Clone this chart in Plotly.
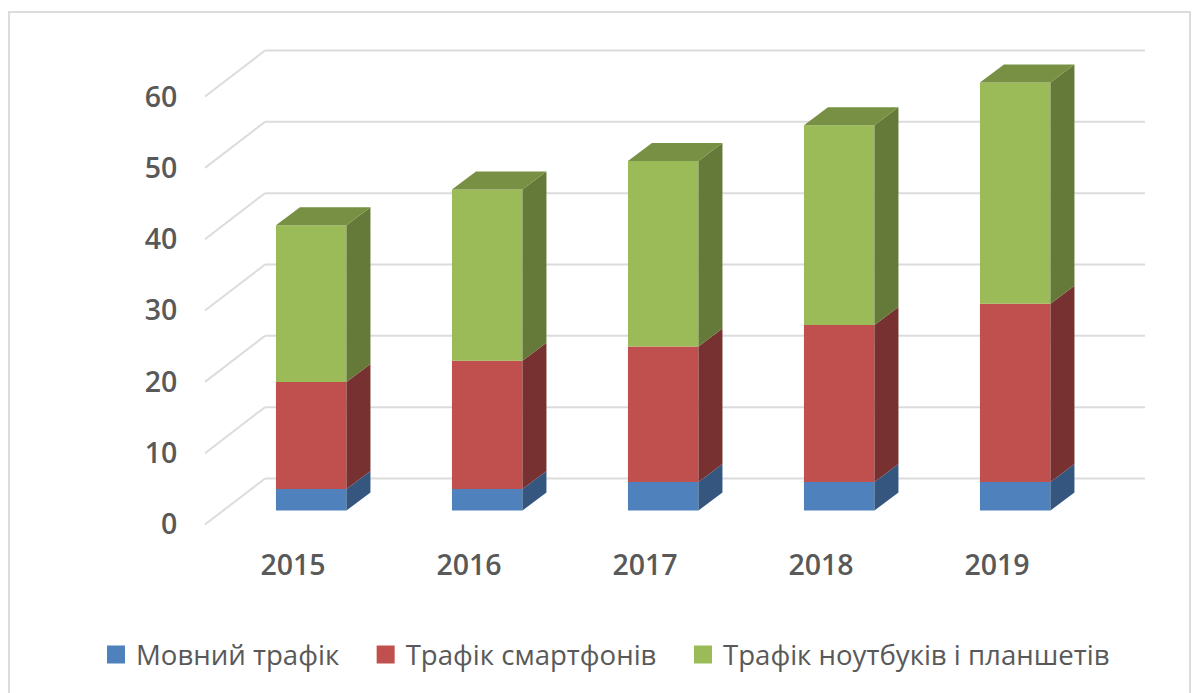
import plotly.graph_objects as go

YEARS = ["2015", "2016", "2017", "2018", "2019"]
VOICE = [3, 3, 4, 4, 4]
SMARTPHONE = [15, 18, 19, 22, 25]
LAPTOP = [22, 24, 26, 28, 31]
Y_TICKS = [0, 10, 20, 30, 40, 50, 60]
NAMES = ["Мовний трафік", "Трафік смартфонів", "Трафік ноутбуків і планшетів"]
FRONT = ["#4F81BD", "#C0504D", "#9BBB59"]
SIDE = ["#34567F", "#773130", "#657A39"]
TOP = "#779043"
GRID = "#DCDCDC"
TEXT = "#595959"

W, H = 1195, 693
ML, MR, MT, MB = 185, 30, 30, 155
PX_X = 176.0    # pixels per category
PX_Y = 7.133    # pixels per value unit
X0_PX = 293.0   # pixel of first category
Y0_PX = 524.5   # pixel of value 0
xr = [(ML - X0_PX) / PX_X, (W - MR - X0_PX) / PX_X]
yr = [(Y0_PX - (H - MB)) / PX_Y, (Y0_PX - MT) / PX_Y]

WALL_DX, WALL_DY = 60 / PX_X, 46 / PX_Y
BAR_DX, BAR_DY = 18.2 / PX_X, 14 / PX_Y
SIDE_DX, SIDE_DY = 24 / PX_X, 18 / PX_Y
BAR_W = 70.5 / PX_X

fig = go.Figure()
xs = list(range(len(YEARS)))
series = [VOICE, SMARTPHONE, LAPTOP]
base = [0] * len(YEARS)
for i, vals in enumerate(series):
    fig.add_trace(go.Bar(x=[x + BAR_DX for x in xs], y=vals,
                         base=[b + BAR_DY for b in base], width=BAR_W,
                         marker=dict(color=FRONT[i], line=dict(width=0)),
                         showlegend=False, hoverinfo="skip"))
    sx, sy = [], []
    for x, b, v in zip(xs, base, vals):
        r = x + BAR_DX + BAR_W / 2
        lo, hi = b + BAR_DY, b + v + BAR_DY
        sx += [r, r + SIDE_DX, r + SIDE_DX, r, r, None]
        sy += [lo, lo + SIDE_DY, hi + SIDE_DY, hi, lo, None]
    fig.add_trace(go.Scatter(x=sx, y=sy, mode="lines", fill="toself", fillcolor=SIDE[i],
                             line=dict(width=0, color=SIDE[i]), showlegend=False, hoverinfo="skip"))
    base = [b + v for b, v in zip(base, vals)]

tx, ty = [], []
for x, b in zip(xs, base):
    l, r, t = x + BAR_DX - BAR_W / 2, x + BAR_DX + BAR_W / 2, b + BAR_DY
    tx += [l, r, r + SIDE_DX, l + SIDE_DX, l, None]
    ty += [t, t, t + SIDE_DY, t + SIDE_DY, t, None]
fig.add_trace(go.Scatter(x=tx, y=ty, mode="lines", fill="toself", fillcolor=TOP,
                         line=dict(width=0, color=TOP), showlegend=False, hoverinfo="skip"))

gap = "\u00a0\u00a0\u00a0"
for i, n in enumerate(NAMES):
    fig.add_trace(go.Scatter(x=[None], y=[None], mode="markers",
                             name=n + (gap if i < 2 else ""),
                             marker=dict(symbol="square", size=16, color=FRONT[i],
                                         line=dict(width=2, color=FRONT[i]))))

shapes = []
for t in Y_TICKS:
    shapes.append(dict(type="line", xref="x", yref="y", layer="below",
                       x0=-0.5, y0=t, x1=-0.5 + WALL_DX, y1=t + WALL_DY,
                       line=dict(color=GRID, width=2)))
    shapes.append(dict(type="line", xref="x", yref="y", layer="below",
                       x0=-0.5 + WALL_DX, y0=t + WALL_DY, x1=4.5 + WALL_DX, y1=t + WALL_DY,
                       line=dict(color=GRID, width=2)))

pw, ph = W - ML - MR, H - MT - MB
fx = lambda px: (px - ML) / pw
fy = lambda py: 1 - (py - MT) / ph
frame_l, frame_r, frame_t, frame_b = 9, 1190, 12, 720
shapes.append(dict(type="rect", xref="paper", yref="paper", layer="below",
                   x0=fx(frame_l), x1=fx(frame_r), y0=fy(frame_b), y1=fy(frame_t),
                   line=dict(color=GRID, width=2)))

fig.update_layout(
    width=W, height=H, margin=dict(l=ML, r=MR, t=MT, b=MB),
    paper_bgcolor="white", plot_bgcolor="white",
    barmode="overlay", shapes=shapes,
    font=dict(family="Open Sans", color=TEXT),
    xaxis=dict(range=xr, tickmode="array", tickvals=xs, ticktext=YEARS,
               showgrid=False, zeroline=False, showline=False, ticks="outside",
               ticklen=2, tickcolor="rgba(0,0,0,0)",
               tickfont=dict(family="Open Sans", size=28.5, color=TEXT, weight=600)),
    yaxis=dict(range=yr, tickmode="array", tickvals=Y_TICKS,
               showgrid=False, zeroline=False, showline=False, ticks="outside",
               ticklen=1, tickcolor="rgba(0,0,0,0)",
               tickfont=dict(family="Open Sans", size=28.5, color=TEXT, weight=600)),
    legend=dict(orientation="h", x=fx(96), xanchor="left", y=fy(630), yanchor="top",
                font=dict(family="Open Sans", size=27.6, color=TEXT), itemclick=False),
)
fig.write_html("out.html", post_script="document.body.style.margin='0';",
               config=dict(displayModeBar=False))
